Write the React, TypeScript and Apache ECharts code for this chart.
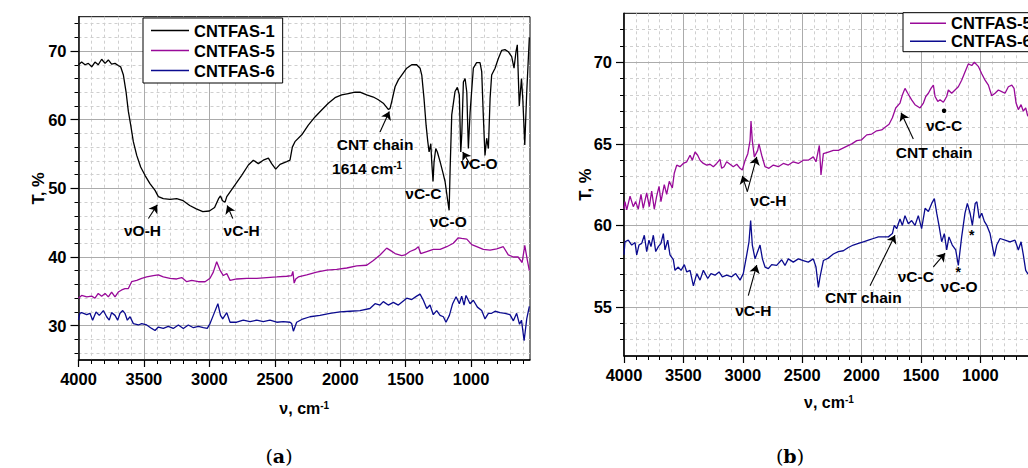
import React, { useEffect, useRef } from 'react';
import * as echarts from 'echarts';

const FONT = '"Liberation Sans", Arial, Helvetica, sans-serif';
const BLACK = '#000000';
const MAGENTA = '#990a99';
const NAVY = '#0b0b8f';

const X_MIN = 550;
const X_MAX = 4000;
const YA_MIN = 25;
const YA_MAX = 75;
const YB_MIN = 52;
const YB_MAX = 73;

const X_MAJOR = [4000, 3500, 3000, 2500, 2000, 1500, 1000];
const X_MINOR = [3900, 3800, 3700, 3600, 3400, 3300, 3200, 3100, 2900, 2800, 2700, 2600, 2400, 2300, 2200, 2100, 1900, 1800, 1700, 1600, 1400, 1300, 1200, 1100, 900, 800, 700, 600];
const YA_MAJOR = [30, 40, 50, 60, 70];
const YA_MINOR = [26, 28, 32, 34, 36, 38, 42, 44, 46, 48, 52, 54, 56, 58, 62, 64, 66, 68, 72, 74];
const YB_MAJOR = [55, 60, 65, 70];
const YB_MINOR = [53, 54, 56, 57, 58, 59, 61, 62, 63, 64, 66, 67, 68, 69, 71, 72];

// (a) CNTFAS-1
const CNTFAS1_A: [number, number][] = [
  [4000, 68.0], [3976, 68.4], [3950, 68.0], [3925, 68.2], [3899, 67.7], [3874, 68.4], [3849, 68.0], [3823, 68.8], [3797, 68.2], [3772, 68.7], [3747, 68.1], [3721, 68.2], [3696, 67.9], [3678, 67.7], [3657, 66.5], [3637, 64.1], [3619, 61.2], [3601, 59.2], [3581, 56.8], [3555, 54.8], [3525, 53.1], [3492, 51.9], [3454, 50.7], [3415, 49.7], [3390, 48.8], [3352, 48.5], [3300, 48.4], [3250, 48.5], [3200, 48.2], [3150, 47.5], [3100, 47.0], [3050, 46.6], [3000, 46.7], [2960, 47.2], [2930, 48.5], [2915, 48.9], [2900, 48.2], [2880, 48.0], [2867, 48.8], [2804, 50.5], [2753, 51.9], [2702, 53.4], [2664, 54.1], [2626, 53.6], [2588, 54.1], [2549, 54.4], [2524, 53.6], [2493, 52.8], [2460, 53.5], [2409, 53.9], [2384, 54.1], [2366, 56.0], [2346, 56.8], [2294, 57.8], [2244, 59.2], [2193, 60.4], [2142, 61.4], [2091, 62.4], [2040, 63.2], [1989, 63.6], [1938, 63.8], [1887, 64.0], [1849, 64.0], [1798, 63.6], [1747, 63.3], [1709, 62.9], [1671, 62.4], [1633, 61.5], [1620, 61.6], [1607, 62.6], [1581, 64.8], [1556, 65.8], [1530, 66.5], [1492, 67.5], [1454, 68.0], [1416, 68.0], [1390, 67.5], [1377, 66.5], [1360, 63.1], [1344, 59.2], [1331, 56.8], [1321, 55.3], [1308, 56.5], [1301, 53.9], [1291, 51.0], [1283, 53.9], [1270, 55.8], [1258, 55.3], [1237, 53.9], [1217, 52.4], [1199, 51.0], [1181, 48.5], [1168, 46.8], [1160, 53.0], [1148, 60.7], [1123, 64.1], [1105, 64.7], [1090, 63.6], [1079, 55.3], [1071, 58.0], [1059, 65.5], [1046, 66.0], [1033, 64.0], [1021, 55.8], [1008, 61.0], [983, 67.5], [958, 68.3], [932, 68.3], [919, 67.0], [907, 60.7], [894, 54.8], [881, 57.3], [868, 55.8], [855, 63.1], [843, 66.5], [817, 67.5], [792, 68.9], [766, 70.1], [741, 70.2], [716, 69.9], [690, 69.2], [672, 67.5], [657, 69.9], [647, 70.9], [632, 62.0], [615, 66.0], [605, 63.0], [590, 56.3], [575, 64.0], [555, 72.0],
];

// (a) CNTFAS-5
const CNTFAS5_A: [number, number][] = [
  [4000, 34.0], [3976, 34.4], [3937, 34.2], [3899, 34.3], [3874, 34.0], [3849, 34.7], [3823, 34.3], [3797, 34.7], [3772, 34.2], [3747, 34.9], [3721, 34.2], [3696, 34.9], [3670, 35.2], [3645, 35.4], [3619, 35.4], [3594, 36.4], [3555, 36.6], [3517, 36.9], [3479, 37.1], [3428, 37.3], [3390, 37.4], [3352, 37.1], [3301, 36.9], [3250, 36.8], [3211, 37.0], [3173, 36.4], [3135, 36.6], [3084, 36.4], [3033, 36.4], [2995, 36.9], [2970, 37.8], [2944, 39.3], [2919, 38.1], [2893, 37.3], [2867, 37.6], [2842, 36.6], [2791, 36.8], [2715, 36.9], [2638, 36.9], [2562, 37.0], [2485, 37.1], [2409, 37.2], [2371, 37.3], [2362, 37.9], [2352, 36.2], [2340, 36.8], [2320, 37.1], [2256, 37.4], [2180, 37.8], [2103, 38.1], [2027, 38.2], [1950, 38.4], [1874, 38.7], [1798, 38.8], [1747, 39.5], [1696, 40.3], [1645, 41.3], [1620, 41.0], [1581, 40.5], [1530, 40.2], [1505, 40.3], [1467, 40.8], [1428, 41.1], [1403, 41.5], [1385, 40.5], [1339, 40.8], [1289, 41.1], [1237, 41.1], [1186, 41.5], [1136, 42.0], [1098, 42.8], [1072, 42.7], [1033, 42.6], [995, 41.8], [957, 41.5], [907, 41.1], [855, 41.0], [804, 41.2], [754, 41.5], [716, 40.3], [677, 40.0], [641, 40.0], [610, 39.2], [590, 41.7], [570, 39.5], [555, 38.0],
];

// (a) CNTFAS-6
const CNTFAS6_A: [number, number][] = [
  [4000, 30.8], [3990, 31.8], [3976, 31.9], [3937, 31.6], [3912, 31.8], [3892, 30.8], [3866, 32.0], [3841, 31.5], [3810, 32.2], [3785, 31.3], [3765, 30.8], [3747, 31.9], [3721, 31.5], [3701, 30.8], [3683, 31.8], [3662, 32.2], [3645, 31.8], [3627, 30.8], [3606, 31.3], [3581, 30.3], [3543, 30.1], [3517, 30.3], [3479, 30.1], [3441, 29.6], [3415, 29.3], [3390, 29.8], [3352, 29.6], [3314, 29.9], [3276, 29.6], [3237, 30.1], [3199, 29.6], [3161, 30.1], [3122, 29.7], [3084, 29.9], [3046, 29.7], [3016, 29.6], [2995, 30.3], [2970, 31.5], [2935, 33.2], [2915, 31.5], [2898, 31.0], [2867, 31.9], [2842, 30.5], [2791, 30.5], [2741, 30.8], [2689, 30.6], [2638, 30.8], [2588, 30.6], [2537, 30.8], [2485, 30.5], [2435, 30.6], [2384, 30.5], [2371, 30.3], [2358, 29.2], [2333, 30.5], [2294, 30.9], [2231, 31.3], [2155, 31.5], [2078, 31.8], [2002, 32.0], [1926, 32.1], [1849, 32.2], [1773, 32.5], [1734, 33.2], [1696, 33.0], [1671, 33.5], [1633, 33.0], [1594, 33.4], [1556, 33.0], [1518, 33.6], [1492, 34.0], [1454, 33.8], [1416, 34.3], [1390, 34.6], [1365, 33.7], [1339, 32.5], [1314, 33.0], [1289, 31.6], [1263, 32.2], [1237, 31.5], [1212, 31.3], [1192, 30.5], [1166, 31.5], [1141, 33.2], [1115, 34.2], [1090, 33.2], [1072, 34.3], [1054, 33.0], [1039, 34.4], [1008, 33.2], [983, 33.7], [952, 32.7], [919, 32.2], [894, 31.0], [868, 31.8], [843, 31.8], [817, 32.1], [779, 31.9], [741, 31.8], [703, 31.6], [677, 30.7], [652, 31.8], [630, 30.2], [615, 30.8], [595, 27.8], [575, 31.0], [555, 32.8],
];

// (b) CNTFAS-5
const CNTFAS5_B: [number, number][] = [
  [4000, 61.0], [3992, 61.46], [3977, 60.95], [3949, 61.8], [3922, 61.15], [3902, 61.46], [3880, 61.0], [3857, 61.9], [3838, 61.05], [3809, 62.0], [3787, 61.15], [3767, 62.1], [3745, 61.0], [3725, 61.8], [3705, 62.4], [3689, 61.46], [3661, 62.5], [3641, 61.9], [3619, 62.7], [3593, 62.3], [3577, 63.2], [3556, 63.7], [3529, 63.6], [3501, 63.8], [3472, 63.9], [3444, 64.3], [3425, 64.0], [3402, 64.5], [3380, 64.3], [3360, 64.0], [3332, 63.8], [3304, 63.7], [3276, 63.75], [3248, 63.6], [3220, 63.8], [3192, 64.05], [3178, 63.5], [3158, 63.6], [3136, 63.9], [3108, 63.75], [3080, 63.6], [3051, 63.75], [3023, 63.5], [3004, 63.4], [2980, 64.0], [2958, 64.4], [2939, 65.2], [2931, 66.4], [2920, 65.2], [2903, 64.2], [2875, 64.6], [2864, 65.0], [2841, 64.3], [2813, 63.6], [2780, 63.5], [2743, 63.7], [2701, 63.6], [2659, 63.8], [2617, 63.7], [2575, 63.9], [2533, 63.8], [2491, 64.0], [2449, 64.0], [2407, 64.2], [2384, 63.9], [2356, 64.9], [2342, 63.1], [2322, 64.4], [2280, 64.5], [2238, 64.6], [2196, 64.6], [2140, 64.8], [2083, 65.0], [2041, 65.2], [2000, 65.25], [1957, 65.55], [1915, 65.6], [1873, 65.8], [1831, 65.85], [1797, 66.05], [1769, 66.2], [1741, 66.6], [1713, 67.2], [1677, 67.5], [1657, 68.0], [1635, 68.4], [1612, 68.1], [1579, 67.7], [1551, 67.4], [1508, 67.2], [1480, 67.5], [1460, 67.9], [1438, 68.1], [1416, 68.4], [1396, 68.6], [1382, 67.9], [1359, 67.6], [1340, 67.7], [1312, 67.55], [1284, 67.9], [1270, 68.3], [1242, 68.1], [1214, 68.3], [1186, 68.5], [1158, 68.9], [1130, 69.4], [1102, 69.9], [1073, 69.8], [1051, 70.0], [1018, 69.75], [989, 69.3], [961, 68.9], [933, 68.6], [905, 67.95], [877, 68.1], [849, 68.3], [821, 68.2], [793, 68.1], [765, 68.5], [736, 68.6], [717, 68.4], [700, 67.5], [681, 67.1], [658, 67.4], [639, 67.0], [619, 67.2], [602, 66.7], [580, 66.9], [555, 67.0],
];

// (b) CNTFAS-6
const CNTFAS6_B: [number, number][] = [
  [4000, 58.2], [3992, 59.0], [3964, 59.1], [3935, 58.8], [3907, 58.95], [3893, 58.2], [3874, 58.8], [3851, 58.9], [3829, 59.4], [3809, 58.4], [3790, 59.1], [3773, 58.7], [3753, 59.4], [3733, 58.4], [3711, 58.7], [3689, 58.9], [3669, 59.5], [3655, 58.5], [3632, 59.1], [3613, 58.2], [3585, 57.9], [3571, 57.25], [3543, 57.45], [3520, 57.25], [3492, 57.6], [3472, 57.15], [3444, 57.25], [3416, 56.3], [3388, 57.05], [3360, 56.65], [3332, 57.25], [3295, 56.75], [3268, 57.05], [3234, 56.95], [3200, 57.15], [3172, 56.85], [3136, 56.95], [3094, 56.85], [3060, 57.05], [3023, 56.65], [2996, 57.05], [2967, 58.2], [2948, 59.0], [2934, 60.3], [2920, 58.8], [2897, 57.95], [2875, 58.4], [2855, 58.8], [2835, 57.95], [2813, 57.45], [2785, 57.35], [2757, 57.6], [2715, 57.55], [2673, 57.9], [2645, 57.55], [2617, 57.95], [2575, 57.75], [2533, 57.95], [2491, 57.85], [2449, 57.75], [2407, 57.95], [2384, 57.45], [2364, 56.2], [2350, 56.85], [2322, 57.85], [2280, 58.0], [2238, 58.25], [2196, 58.4], [2154, 58.45], [2112, 58.65], [2070, 58.8], [2027, 58.9], [1985, 59.0], [1943, 59.1], [1901, 59.2], [1859, 59.3], [1817, 59.3], [1775, 59.3], [1741, 59.5], [1725, 60.0], [1705, 59.8], [1677, 60.4], [1657, 60.0], [1635, 60.6], [1607, 60.1], [1579, 60.3], [1551, 60.0], [1523, 60.6], [1495, 59.8], [1466, 61.05], [1438, 60.85], [1410, 61.35], [1388, 61.65], [1368, 60.75], [1349, 60.0], [1326, 59.0], [1304, 59.5], [1284, 58.5], [1265, 59.3], [1237, 58.8], [1208, 58.5], [1186, 57.55], [1158, 59.3], [1130, 60.75], [1110, 61.35], [1087, 60.75], [1068, 60.0], [1044, 61.35], [1030, 61.45], [1010, 60.45], [989, 60.75], [967, 60.25], [946, 60.0], [919, 59.5], [883, 58.1], [863, 58.8], [835, 59.2], [793, 59.1], [751, 59.0], [709, 59.1], [681, 58.5], [658, 59.0], [639, 58.2], [619, 57.25], [602, 57.05], [580, 57.0], [555, 57.1],
];

type Note = { text: string; nu: number; t: number };

const NOTES_A: Note[] = [
  { text: 'νO-H', nu: 3511, t: 43.9 },
  { text: 'νC-H', nu: 2753, t: 43.9 },
  { text: 'CNT chain', nu: 1734, t: 56.4 },
  { text: '{m|1614 cm}{s|-1}', nu: 1795, t: 52.9 },
  { text: 'νC-C', nu: 1365, t: 49.2 },
  { text: 'νC-O', nu: 1175, t: 45.1 },
  { text: 'νC-O', nu: 939, t: 53.6 },
];
const ARROWS_A: [number, number][][] = [
  [[3466, 45.6], [3398, 47.6]],
  [[2821, 45.6], [2864, 47.5]],
  [[1696, 58.2], [1625, 61.2]],
  [[995, 53.1], [1064, 55.3]],
];

const NOTES_B: Note[] = [
  { text: 'νC-H', nu: 2785, t: 61.55 },
  { text: 'νC-C', nu: 1306, t: 66.1 },
  { text: 'CNT chain', nu: 1390, t: 64.5 },
  { text: 'νC-H', nu: 2912, t: 54.8 },
  { text: 'CNT chain', nu: 1986, t: 55.6 },
  { text: 'νC-C', nu: 1544, t: 56.9 },
  { text: 'νC-O', nu: 1180, t: 56.25 },
  { text: '*', nu: 1186, t: 57.15 },
  { text: '*', nu: 1073, t: 59.43 },
];
const DOTS_B: [number, number][] = [[1306, 67.03]];
const ARROWS_B: [number, number][][] = [
  [[2962, 62.07], [3004, 63.04]],
  [[2962, 62.07], [2883, 64.2]],
  [[1565, 65.3], [1668, 66.9]],
  [[2954, 55.7], [2883, 57.57]],
  [[1929, 56.3], [1719, 59.4]],
  [[1396, 57.46], [1298, 58.3]],
];

const LEGEND_A = ['CNTFAS-1', 'CNTFAS-5', 'CNTFAS-6'];
const LEGEND_B = ['CNTFAS-5', 'CNTFAS-6'];

const GRID_A = { left: 78.5, top: 16.7, width: 451.5, height: 343.3 };
const GRID_B = { left: 624, top: 13.3, width: 409.9, height: 342.7 };

const labelFont = { fontFamily: FONT, fontSize: 16.5, fontWeight: 'bold' as const, color: '#000' };
const noteFont = { fontFamily: FONT, fontSize: 15.5, fontWeight: 'bold' as const, color: '#000' };

const supRich = {
  a: { fontFamily: FONT, fontSize: 16, fontWeight: 'bold', color: '#000' },
  m: { fontFamily: FONT, fontSize: 15.5, fontWeight: 'bold', color: '#000' },
  s: { fontFamily: FONT, fontSize: 10, fontWeight: 'bold', color: '#000', verticalAlign: 'top' },
};

const plainNumber = (v: number) => String(v);

function xMain(gridIndex: number, nameGap: number) {
  return {
    type: 'value', gridIndex, position: 'bottom', min: X_MIN, max: X_MAX, inverse: true, z: 3,
    axisLine: { show: true, onZero: false, lineStyle: { color: '#000', width: 1.5 } },
    axisTick: { show: true, length: 7, customValues: X_MAJOR, lineStyle: { color: '#000', width: 1.2 } },
    axisLabel: { show: true, customValues: X_MAJOR, margin: 10, formatter: plainNumber, ...labelFont },
    splitLine: { show: true, lineStyle: { color: '#ababab', width: 1 } },
    minorTick: { show: false }, minorSplitLine: { show: false },
    name: '{a|ν, cm}{s|-1}', nameLocation: 'middle', nameGap, nameMoveOverlap: false,
    nameTextStyle: { rich: supRich },
  };
}
function xMinor(gridIndex: number) {
  return {
    type: 'value', gridIndex, position: 'bottom', min: X_MIN, max: X_MAX, inverse: true, z: 1,
    axisLine: { show: false },
    axisTick: { show: true, length: 4, customValues: X_MINOR, lineStyle: { color: '#000', width: 1 } },
    axisLabel: { show: false },
    splitLine: { show: true, lineStyle: { color: '#cfcfcf', width: 1, type: [3, 3] } },
  };
}
function yMain(gridIndex: number, min: number, max: number, major: number[], nameGap: number) {
  return {
    type: 'value', gridIndex, position: 'left', min, max, z: 3,
    axisLine: { show: true, onZero: false, lineStyle: { color: '#000', width: 1.5 } },
    axisTick: { show: true, length: 8, customValues: major, lineStyle: { color: '#000', width: 1.2 } },
    axisLabel: { show: true, customValues: major, margin: 12, formatter: plainNumber, ...labelFont },
    splitLine: { show: true, lineStyle: { color: '#ababab', width: 1 } },
    minorTick: { show: false }, minorSplitLine: { show: false },
    name: 'T, %', nameLocation: 'middle', nameGap, nameRotate: 90, nameMoveOverlap: false,
    nameTextStyle: { ...labelFont },
  };
}
function yMinor(gridIndex: number, min: number, max: number, minor: number[]) {
  return {
    type: 'value', gridIndex, position: 'left', min, max, z: 1,
    axisLine: { show: false },
    axisTick: { show: true, length: 4, customValues: minor, lineStyle: { color: '#000', width: 1 } },
    axisLabel: { show: false },
    splitLine: { show: true, lineStyle: { color: '#cfcfcf', width: 1, type: [3, 3] } },
  };
}

function markPoints(notes: Note[], dots: [number, number][]) {
  return {
    silent: true,
    symbol: 'circle',
    symbolSize: 1,
    itemStyle: { color: 'rgba(0,0,0,0)' },
    label: { show: true, position: 'inside', ...noteFont, rich: supRich },
    data: [
      ...notes.map((n) => ({
        coord: [n.nu, n.t],
        label: n.text === '*' ? { formatter: n.text, fontSize: 14 } : { formatter: n.text },
      })),
      ...dots.map((d) => ({ coord: d, symbolSize: 4.5, itemStyle: { color: '#000' }, label: { show: false } })),
    ],
  };
}
function markLines(arrows: [number, number][][]) {
  return {
    silent: true,
    symbol: ['none', 'arrow'],
    symbolSize: 8,
    label: { show: false },
    lineStyle: { color: '#000', width: 1.1, type: 'solid' },
    emphasis: { disabled: true },
    data: arrows.map((a) => [{ coord: a[0] }, { coord: a[1] }]),
  };
}

function lineSeries(name: string, data: [number, number][], color: string, axis: number, extra: object = {}) {
  return {
    name, type: 'line', xAxisIndex: axis, yAxisIndex: axis, data, symbol: 'none', showSymbol: false,
    lineStyle: { color, width: 1.3 }, itemStyle: { color }, z: 3, emphasis: { disabled: true },
    ...extra,
  };
}

function legend(data: string[], left: number, top: number, gap: number, pad: number[], itemWidth: number) {
  return {
    data, orient: 'vertical', left, top, icon: 'rect', itemWidth, itemHeight: 1.6, itemGap: gap,
    padding: pad, borderColor: '#000', borderWidth: 1, borderRadius: 0, backgroundColor: '#fff',
    selectedMode: false, z: 10,
    textStyle: { fontFamily: FONT, fontSize: 16.5, fontWeight: 'bold', color: '#000' },
  };
}

const option = {
  animation: false,
  backgroundColor: '#ffffff',
  textStyle: { fontFamily: FONT },
  grid: [
    { ...GRID_A, show: true, borderColor: '#000', borderWidth: 1, backgroundColor: 'transparent', containLabel: false, outerBoundsMode: 'none' },
    { ...GRID_B, show: true, borderColor: '#000', borderWidth: 1, backgroundColor: 'transparent', containLabel: false, outerBoundsMode: 'none' },
  ],
  xAxis: [xMain(0, 40), xMinor(0), xMain(1, 38), xMinor(1)],
  yAxis: [
    yMain(0, YA_MIN, YA_MAX, YA_MAJOR, 32),
    yMinor(0, YA_MIN, YA_MAX, YA_MINOR),
    yMain(1, YB_MIN, YB_MAX, YB_MAJOR, 31),
    yMinor(1, YB_MIN, YB_MAX, YB_MINOR),
  ],
  legend: [
    legend(LEGEND_A, 143, 18, 3, [4, 8, 4, 8], 38),
    legend(LEGEND_B, 903, 12.7, 1, [2, 8, 2, 7], 36),
  ],
  series: [
    lineSeries('CNTFAS-1', CNTFAS1_A, BLACK, 0, { markPoint: markPoints(NOTES_A, []), markLine: markLines(ARROWS_A) }),
    lineSeries('CNTFAS-5', CNTFAS5_A, MAGENTA, 0),
    lineSeries('CNTFAS-6', CNTFAS6_A, NAVY, 0),
    lineSeries('CNTFAS-5', CNTFAS5_B, MAGENTA, 2, { markPoint: markPoints(NOTES_B, DOTS_B), markLine: markLines(ARROWS_B) }),
    lineSeries('CNTFAS-6', CNTFAS6_B, NAVY, 2),
  ],
  graphic: [
    {
      type: 'text', x: 279, y: 456, z: 20,
      style: {
        text: '{p|(}{b|a}{p|)}', align: 'center', verticalAlign: 'middle',
        rich: {
          p: { fontFamily: '"DejaVu Serif", "Liberation Serif", serif', fontSize: 19, fill: '#000' },
          b: { fontFamily: '"DejaVu Serif", "Liberation Serif", serif', fontSize: 19, fontWeight: 'bold', fill: '#000' },
        },
      },
    },
    {
      type: 'text', x: 790, y: 456, z: 20,
      style: {
        text: '{p|(}{b|b}{p|)}', align: 'center', verticalAlign: 'middle',
        rich: {
          p: { fontFamily: '"DejaVu Serif", "Liberation Serif", serif', fontSize: 19, fill: '#000' },
          b: { fontFamily: '"DejaVu Serif", "Liberation Serif", serif', fontSize: 19, fontWeight: 'bold', fill: '#000' },
        },
      },
    },
  ],
};

export default function App() {
  const ref = useRef<HTMLDivElement>(null);
  useEffect(() => {
    const el = ref.current;
    if (!el) return;
    const chart = echarts.init(el, null, { renderer: 'svg' });
    chart.setOption(option as any);
    return () => chart.dispose();
  }, []);
  return (
    <div
      ref={ref}
      style={{ position: 'fixed', left: 0, top: 0, width: 1028, height: 468, background: '#fff', overflow: 'hidden' }}
    />
  );
}
